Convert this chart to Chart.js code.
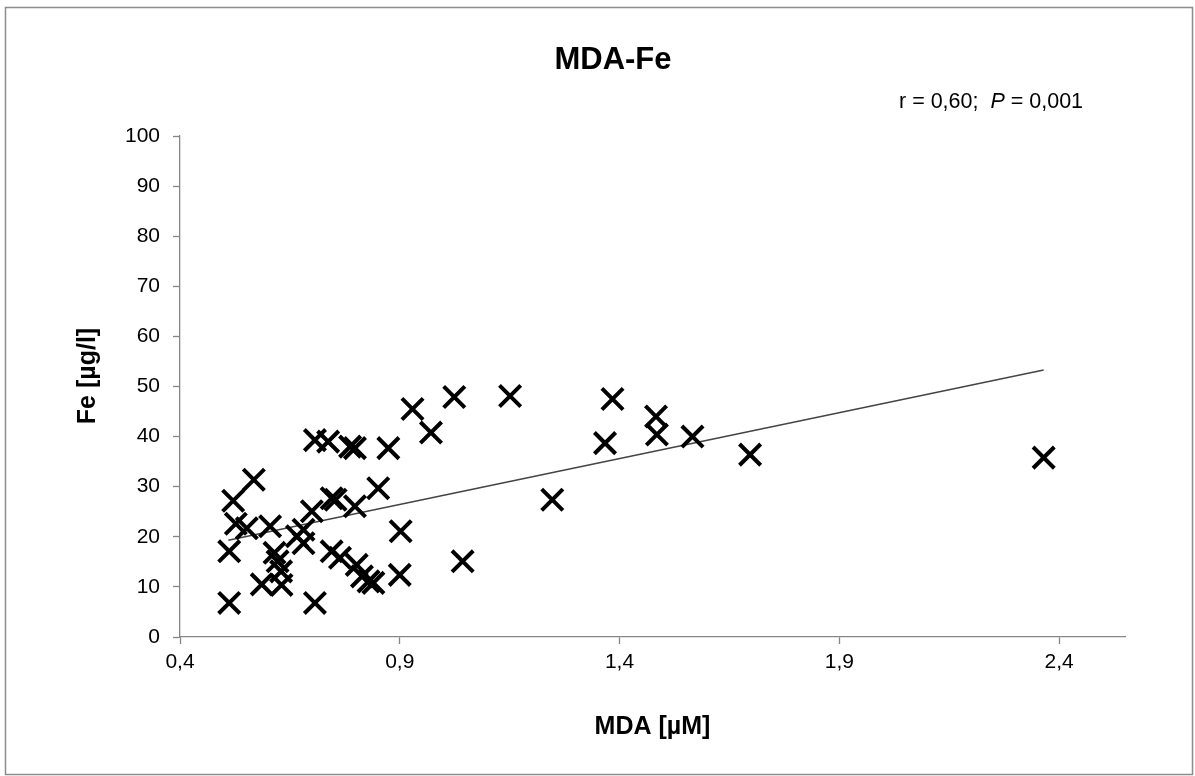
<!DOCTYPE html>
<html>
<head>
<meta charset="utf-8">
<script src="https://cdn.jsdelivr.net/npm/chart.js@4.4.1/dist/chart.umd.min.js"></script>
<style>
  html, body { margin: 0; padding: 0; background: #fff; }
  canvas { display: block; }
</style>
</head>
<body>
<canvas id="chart" width="1195" height="776"></canvas>
<script>
// MDA [µM] (x) and Fe [µg/l] (y)
const mdaValues = [
  0.512, 0.521, 0.512, 0.527, 0.552, 0.568, 0.605, 0.586, 0.615, 0.622,
  0.630, 0.631, 0.666, 0.681, 0.681, 0.700, 0.707, 0.707, 0.737, 0.745,
  0.754, 0.745, 0.764, 0.787, 0.798, 0.798, 0.802, 0.814, 0.829, 0.840,
  0.851, 0.874, 0.902, 0.900, 0.929, 0.971, 1.024, 1.043, 1.151, 1.247,
  1.367, 1.384, 1.483, 1.485, 1.566, 1.697, 2.365
];
const feValues = [
  6.8, 27.2, 17.1, 22.6, 21.7, 31.4, 22.1, 10.5, 16.8, 15.1,
  13.1, 10.4, 20.1, 21.4, 18.7, 25.1, 6.8, 39.3, 39.0, 27.7,
  27.4, 17.1, 15.8, 38.0, 37.7, 26.1, 14.4, 12.1, 11.1, 10.8,
  29.7, 37.7, 21.1, 12.4, 45.5, 40.8, 47.9, 15.1, 48.1, 27.4,
  38.7, 47.5, 44.0, 40.4, 40.0, 36.4, 35.8
];

// trend line end points as drawn
const trendMda = [0.51, 2.365];
const trendFe = [19.3, 53.3];

const xTickValues = [0.4, 0.9, 1.4, 1.9, 2.4];
const chartTitle = "MDA-Fe";
const xTitle = "MDA [µM]";
const yTitle = "Fe [µg/l]";

const FONT = '"Liberation Sans", Arial, sans-serif';
const AXIS = "#868686";

function commaNum(v) {
  return String(v).replace(".", ",");
}

const scatterPoints = mdaValues.map((x, i) => ({ x: x, y: feValues[i] }));
const trendPoints = trendMda.map((x, i) => ({ x: x, y: trendFe[i] }));

// frame, titles and the r / P note
const decorations = {
  id: "decorations",
  beforeDraw(chart) {
    const ctx = chart.ctx;
    ctx.save();
    ctx.fillStyle = "#fff";
    ctx.fillRect(0, 0, chart.width, chart.height);
    ctx.strokeStyle = "#8c8c8c";
    ctx.lineWidth = 1.5;
    ctx.strokeRect(5.5, 7.5, 1187, 767);
    ctx.restore();
  },
  afterDraw(chart) {
    const ctx = chart.ctx;
    ctx.save();
    ctx.fillStyle = "#000";
    ctx.textBaseline = "alphabetic";
    ctx.textAlign = "center";
    ctx.font = "bold 31px " + FONT;
    ctx.fillText(chartTitle, 613, 69);

    // y axis title, rotated
    ctx.save();
    ctx.translate(88, 376);
    ctx.rotate(-Math.PI / 2);
    ctx.textBaseline = "middle";
    ctx.font = "bold 25px " + FONT;
    ctx.fillText(yTitle, 0, 0);
    ctx.restore();

    ctx.textAlign = "left";
    let x = 899;
    const y = 107.5;
    ctx.font = "21.5px " + FONT;
    const part1 = "r = 0,60;  ";
    ctx.fillText(part1, x, y);
    x += ctx.measureText(part1).width;
    ctx.font = "italic 21.5px " + FONT;
    ctx.fillText("P", x, y);
    x += ctx.measureText("P").width;
    ctx.font = "21.5px " + FONT;
    ctx.fillText(" = 0,001", x, y);
    ctx.restore();
  }
};

const ctx = document.getElementById("chart");
const myChart = new Chart(ctx, {
  type: "scatter",
  data: {
    datasets: [
      {
        data: scatterPoints,
        pointStyle: "crossRot",
        pointRadius: 15,
        pointHoverRadius: 15,
        borderColor: "#000",
        backgroundColor: "#000",
        borderWidth: 4,
        pointBorderWidth: 4,
      },
      {
        data: trendPoints,
        showLine: true,
        pointRadius: 0,
        borderColor: "#444",
        borderWidth: 1.5,
      },
    ],
  },
  options: {
    responsive: false,
    animation: false,
    layout: { padding: { left: 0, top: 136, right: 70, bottom: 0 } },
    plugins: {
      legend: { display: false },
      tooltip: { enabled: false },
      title: { display: false },
    },
    scales: {
      x: {
        type: "linear",
        min: 0.4,
        max: 2.55,
        afterBuildTicks: (scale) => {
          scale.ticks = xTickValues.map((v) => ({ value: v }));
        },
        afterFit: (scale) => {
          scale.height = 139;
        },
        ticks: {
          callback: (v) => commaNum(v),
          color: "#000",
          padding: 6,
          maxRotation: 0,
          font: { family: FONT, size: 21 },
        },
        grid: {
          display: true,
          drawOnChartArea: false,
          drawTicks: true,
          tickLength: 7,
          tickColor: AXIS,
          tickWidth: 1.3,
        },
        border: { display: true, color: AXIS, width: 1.3 },
        title: {
          display: true,
          text: xTitle,
          color: "#000",
          font: { family: FONT, size: 25, weight: "bold" },
          padding: { top: 0, bottom: 33.5 },
        },
      },
      y: {
        type: "linear",
        min: 0,
        max: 100,
        afterFit: (scale) => {
          scale.width = 180;
        },
        ticks: {
          stepSize: 10,
          color: "#000",
          padding: 13,
          font: { family: FONT, size: 21 },
        },
        grid: {
          display: true,
          drawOnChartArea: false,
          drawTicks: true,
          tickLength: 7,
          tickColor: AXIS,
          tickWidth: 1.3,
        },
        border: { display: true, color: AXIS, width: 1.3 },
        title: { display: false },
      },
    },
  },
  plugins: [decorations],
});
</script>
</body>
</html>
